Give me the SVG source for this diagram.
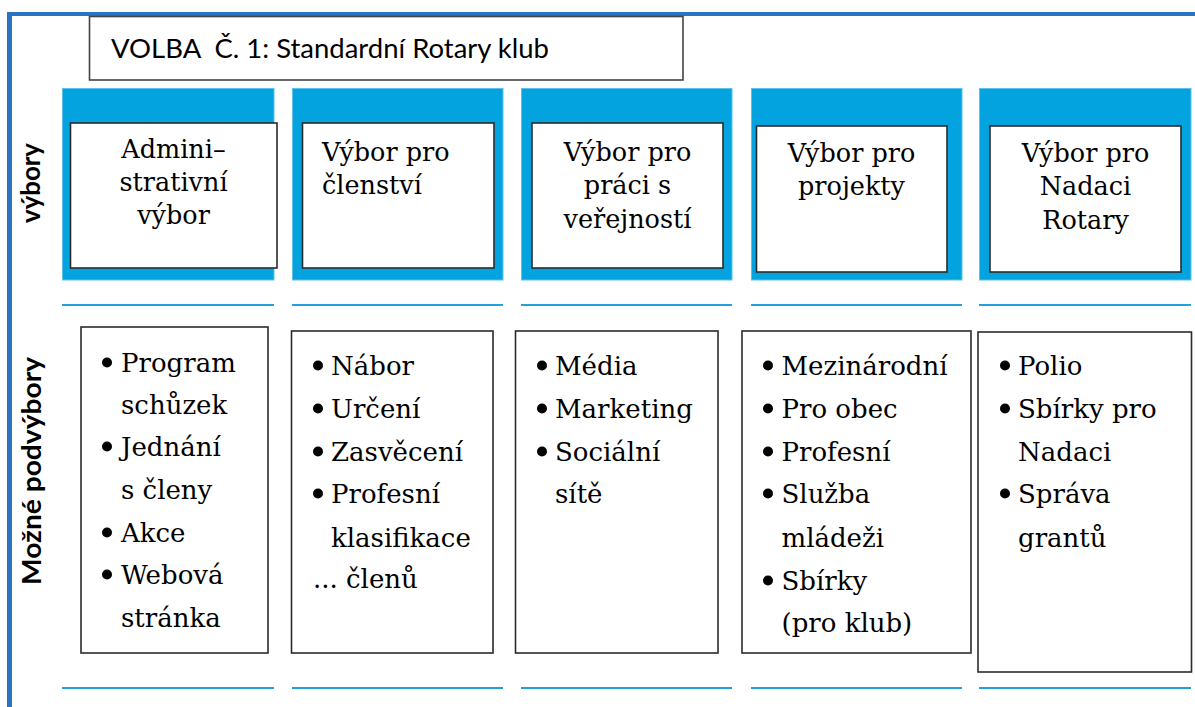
<svg xmlns="http://www.w3.org/2000/svg" width="1195" height="707" viewBox="0 0 1195 707">
<style>
.frame{fill:#2a73c5}
.col{fill:#03a3df;stroke:#5cc0ea;stroke-width:1}
.rule{stroke:#21a0dc;stroke-width:2.2;fill:none}
.box{fill:#fff;stroke:#2b2b2b;stroke-width:1.6}
.tbox{fill:#fff;stroke:#444;stroke-width:1.6}
.t{font-family:"DejaVu Serif","Liberation Serif",serif;font-size:25.5px;fill:#000}
.c{text-anchor:middle}
.b{font-family:"DejaVu Serif","Liberation Serif",serif;font-size:26px;fill:#000}
.lab{font-family:Lato,"Liberation Sans",sans-serif;font-weight:bold;font-size:26px;fill:#000}
.title{font-family:Lato,"Liberation Sans",sans-serif;font-size:27.5px;fill:#000}
.dot{fill:#000}
</style>
<rect class="frame" x="7" y="12" width="1188" height="4"/>
<rect class="frame" x="7" y="12" width="5" height="695"/>

<g id="title">
<rect class="tbox" x="89.5" y="16.5" width="593.5" height="63.5"/>
<text class="title" x="111" y="58" xml:space="preserve" textLength="438" lengthAdjust="spacingAndGlyphs">VOLBA  Č. 1: Standardní Rotary klub</text>
</g>

<g id="labels">
<text class="lab c" transform="translate(40,183) rotate(-90)" textLength="80" lengthAdjust="spacingAndGlyphs">výbory</text>
<text class="lab c" transform="translate(41,471) rotate(-90)" textLength="228" lengthAdjust="spacingAndGlyphs">Možné podvýbory</text>
</g>

<g id="rules">
<line class="rule" x1="62" y1="305" x2="274" y2="305"/>
<line class="rule" x1="292" y1="305" x2="503" y2="305"/>
<line class="rule" x1="521" y1="305" x2="732" y2="305"/>
<line class="rule" x1="751" y1="305" x2="962" y2="305"/>
<line class="rule" x1="979" y1="305" x2="1191" y2="305"/>
<line class="rule" x1="62" y1="688" x2="274" y2="688"/>
<line class="rule" x1="292" y1="688" x2="503" y2="688"/>
<line class="rule" x1="521" y1="688" x2="732" y2="688"/>
<line class="rule" x1="751" y1="688" x2="962" y2="688"/>
<line class="rule" x1="979" y1="688" x2="1191" y2="688"/>
</g>

<g id="committee-admin">
<rect class="col" x="62.5" y="88.5" width="211.5" height="191.5"/>
<rect class="box" x="70.5" y="123" width="206.5" height="145"/>
<text class="t c" x="173.5" y="158">Admini–</text>
<text class="t c" x="173.5" y="191">strativní</text>
<text class="t c" x="173.5" y="224">výbor</text>
</g>
<g id="committee-membership">
<rect class="col" x="292.5" y="88.5" width="210.5" height="191.5"/>
<rect class="box" x="302.5" y="123" width="191.5" height="145"/>
<text class="t" x="322" y="161">Výbor pro</text>
<text class="t" x="322" y="194">členství</text>
</g>
<g id="committee-pr">
<rect class="col" x="521.5" y="88.5" width="210.5" height="191.5"/>
<rect class="box" x="532" y="123" width="191" height="145"/>
<text class="t c" x="627.5" y="161">Výbor pro</text>
<text class="t c" x="627.5" y="194">práci s</text>
<text class="t c" x="627.5" y="228">veřejností</text>
</g>
<g id="committee-projects">
<rect class="col" x="751.5" y="88.5" width="210.5" height="191.5"/>
<rect class="box" x="756.5" y="126" width="190.5" height="146"/>
<text class="t c" x="851.5" y="162">Výbor pro</text>
<text class="t c" x="851.5" y="195">projekty</text>
</g>
<g id="committee-foundation">
<rect class="col" x="979.5" y="88.5" width="211.5" height="191.5"/>
<rect class="box" x="990" y="126" width="191" height="146"/>
<text class="t c" x="1085.5" y="162">Výbor pro</text>
<text class="t c" x="1085.5" y="195">Nadaci</text>
<text class="t c" x="1085.5" y="229">Rotary</text>
</g>

<g id="sub-admin">
<rect class="box" x="81" y="327" width="187" height="326"/>
<circle class="dot" cx="107" cy="362.5" r="5"/>
<circle class="dot" cx="107" cy="446.5" r="5"/>
<circle class="dot" cx="107" cy="532.5" r="5"/>
<circle class="dot" cx="107" cy="574.5" r="5"/>
<text class="b" x="121" y="372">Program</text>
<text class="b" x="121" y="414">schůzek</text>
<text class="b" x="121" y="456">Jednání</text>
<text class="b" x="121" y="499">s členy</text>
<text class="b" x="121" y="542">Akce</text>
<text class="b" x="121" y="584">Webová</text>
<text class="b" x="121" y="627">stránka</text>
</g>
<g id="sub-membership">
<rect class="box" x="291.5" y="331" width="201.5" height="322"/>
<circle class="dot" cx="318" cy="365.5" r="5"/>
<circle class="dot" cx="318" cy="408.5" r="5"/>
<circle class="dot" cx="318" cy="451.5" r="5"/>
<circle class="dot" cx="318" cy="493.5" r="5"/>
<text class="b" x="331" y="375">Nábor</text>
<text class="b" x="331" y="418">Určení</text>
<text class="b" x="331" y="461">Zasvěcení</text>
<text class="b" x="331" y="503">Profesní</text>
<text class="b" x="331" y="547">klasifikace</text>
<text class="b" x="313" y="588">... členů</text>
</g>
<g id="sub-pr">
<rect class="box" x="515.5" y="331" width="202.5" height="322"/>
<circle class="dot" cx="542" cy="365.5" r="5"/>
<circle class="dot" cx="542" cy="408.5" r="5"/>
<circle class="dot" cx="542" cy="451.5" r="5"/>
<text class="b" x="555" y="375">Média</text>
<text class="b" x="555" y="418">Marketing</text>
<text class="b" x="555" y="461">Sociální</text>
<text class="b" x="555" y="503">sítě</text>
</g>
<g id="sub-projects">
<rect class="box" x="742" y="331" width="229" height="322"/>
<circle class="dot" cx="768" cy="365.5" r="5"/>
<circle class="dot" cx="768" cy="408.5" r="5"/>
<circle class="dot" cx="768" cy="451.5" r="5"/>
<circle class="dot" cx="768" cy="493.5" r="5"/>
<circle class="dot" cx="768" cy="580.5" r="5"/>
<text class="b" x="781.5" y="375">Mezinárodní</text>
<text class="b" x="781.5" y="418">Pro obec</text>
<text class="b" x="781.5" y="461">Profesní</text>
<text class="b" x="781.5" y="503">Služba</text>
<text class="b" x="781.5" y="547">mládeži</text>
<text class="b" x="781.5" y="590">Sbírky</text>
<text class="b" x="781.5" y="632">(pro klub)</text>
</g>
<g id="sub-foundation">
<rect class="box" x="978" y="332" width="213.5" height="340"/>
<circle class="dot" cx="1005" cy="365.5" r="5"/>
<circle class="dot" cx="1005" cy="408.5" r="5"/>
<circle class="dot" cx="1005" cy="493.5" r="5"/>
<text class="b" x="1018" y="375">Polio</text>
<text class="b" x="1018" y="418">Sbírky pro</text>
<text class="b" x="1018" y="461">Nadaci</text>
<text class="b" x="1018" y="503">Správa</text>
<text class="b" x="1018" y="547">grantů</text>
</g>
</svg>
